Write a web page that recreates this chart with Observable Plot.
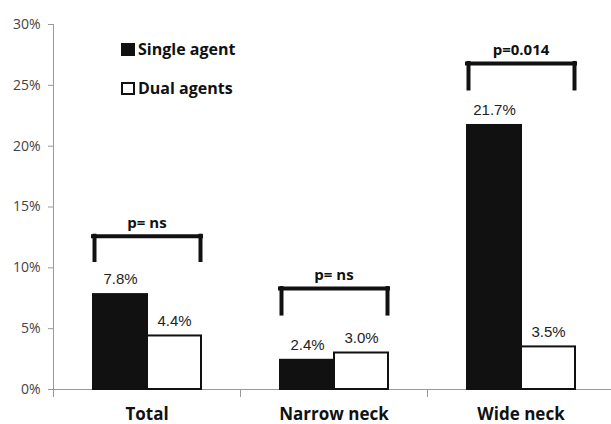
<!DOCTYPE html>
<html>
<head>
<meta charset="utf-8">
<script src="https://cdn.jsdelivr.net/npm/d3@7"></script>
<script src="https://cdn.jsdelivr.net/npm/@observablehq/plot@0.6"></script>
<style>
  html, body { margin: 0; padding: 0; background: #fff; }
  #wrap { position: relative; width: 611px; height: 424px; }
  .legend { position: absolute; left: 121px; font-family: "Open Sans", sans-serif; font-weight: bold; font-size: 16px; color: #111; display: flex; align-items: center; white-space: nowrap; }
  .sw { display: inline-block; width: 14px; height: 13px; margin-right: 3px; box-sizing: border-box; }
</style>
</head>
<body>
<div id="wrap"></div>
<script>
const categories = ["Total", "Narrow neck", "Wide neck"];
const series = ["Single agent", "Dual agents"];
const singleAgent = [7.8, 2.4, 21.7];
const dualAgents = [4.4, 3.0, 3.5];
const pLabels = ["p= ns", "p= ns", "p=0.014"];
const bracketTop = [12.6, 8.3, 26.8];
const bracketBottom = [10.6, 6.2, 24.7];
const yTicks = [0, 5, 10, 15, 20, 25, 30];
const seriesColors = ["#111111", "#ffffff"];

const rows = [];
categories.forEach((c, i) => {
  rows.push({category: c, series: series[0], value: singleAgent[i]});
  rows.push({category: c, series: series[1], value: dualAgents[i]});
});
const brackets = categories.map((c, i) => ({
  category: c, top: bracketTop[i], bottom: bracketBottom[i],
  left: series[0], right: series[1], label: pLabels[i]
}));

const halfBand = 27;

const chart = Plot.plot({
  width: 611,
  height: 424,
  marginLeft: 53,
  marginRight: -3,
  marginTop: 24,
  marginBottom: 35,
  style: {background: "white", fontFamily: "Open Sans, sans-serif"},
  fx: {domain: categories, padding: 0, label: null},
  x: {domain: series, paddingInner: 0, paddingOuter: 0.73, axis: null},
  y: {domain: [0, 30], label: null},
  color: {domain: series, range: seriesColors},
  marks: [
    Plot.axisY({ticks: yTicks, tickFormat: d => d + "%", tickSize: 5, tickPadding: 8, stroke: "#999", fill: "#444", fontSize: 14, label: null}),
    Plot.axisFx({anchor: "bottom", tickSize: 0, tickPadding: 18, fontSize: 17, fontWeight: "bold", fill: "#111", label: null}),
    Plot.frame({anchor: "left", stroke: "#999", facetAnchor: "left", insetBottom: -3}),
    Plot.frame({anchor: "left", stroke: "#999", insetTop: 365, insetBottom: -7}),
    Plot.ruleY([0], {stroke: "#999"}),
    Plot.barY(rows, {fx: "category", x: "series", y: "value", fill: "series", stroke: "#111", strokeWidth: 2}),
    Plot.text(rows, {fx: "category", x: "series", y: "value", text: d => d.value.toFixed(1) + "%", dy: -15, fontSize: 15, fontFamily: "Liberation Sans, Arial, sans-serif", fill: "#222"}),
    Plot.ruleY(brackets, {fx: "category", y: "top", x1: "left", x2: "right", stroke: "#111", strokeWidth: 4, strokeLinecap: "square"}),
    Plot.ruleX(brackets, {fx: "category", x: "left", y1: "bottom", y2: "top", dx: -halfBand + 1, stroke: "#111", strokeWidth: 4, strokeLinecap: "square"}),
    Plot.ruleX(brackets, {fx: "category", x: "right", y1: "bottom", y2: "top", dx: halfBand - 1, stroke: "#111", strokeWidth: 4, strokeLinecap: "square"}),
    Plot.text(brackets, {fx: "category", y: "top", text: "label", dy: -13, fontSize: 15, fontWeight: "bold", fill: "#111"})
  ]
});

const wrap = document.getElementById("wrap");
wrap.appendChild(chart);

const legendItems = [
  {label: series[0], top: 38, style: "background:#111;"},
  {label: series[1], top: 77, style: "background:#fff;border:2px solid #111;"}
];
legendItems.forEach(item => {
  const div = document.createElement("div");
  div.className = "legend";
  div.style.top = item.top + "px";
  div.innerHTML = `<span class="sw" style="${item.style}"></span>`;
  div.appendChild(document.createTextNode(item.label));
  wrap.appendChild(div);
});
</script>
</body>
</html>
